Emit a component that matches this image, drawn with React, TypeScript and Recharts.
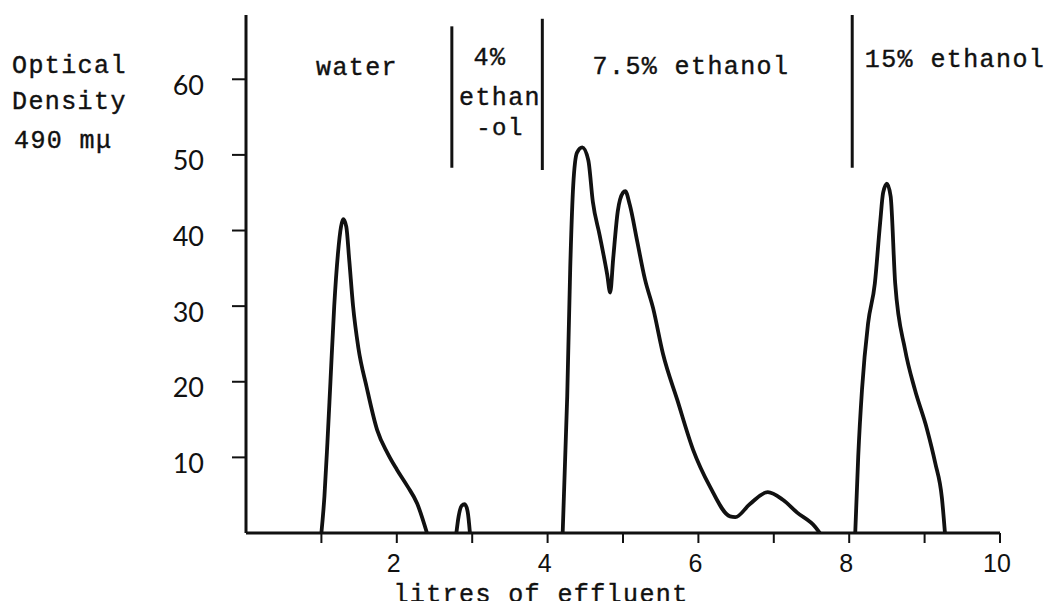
import React from 'react';
import { LineChart, Line, XAxis, YAxis, ReferenceLine } from 'recharts';

// elution profile, optical density at 490 mμ against litres of effluent
const waterLitres = [1.0, 1.04, 1.08, 1.12, 1.17, 1.22, 1.26, 1.29, 1.33, 1.37, 1.42, 1.49, 1.6, 1.74, 1.88, 2.0, 2.14, 2.27, 2.4];
const waterOD = [0, 4.8, 12, 20, 30, 37, 40.5, 41.5, 40.5, 36, 30, 24.5, 19.3, 13.6, 10.5, 8.4, 6.2, 3.9, 0];

const eth4Litres = [2.79, 2.82, 2.86, 2.9, 2.94, 2.97];
const eth4OD = [0, 2.2, 3.6, 3.8, 2.8, 0];

const eth75Litres = [4.2, 4.26, 4.3, 4.34, 4.39, 4.46, 4.54, 4.6, 4.69, 4.79, 4.83, 4.87, 4.93, 5.0, 5.03, 5.09, 5.19, 5.29, 5.4, 5.53, 5.72, 5.93, 6.15, 6.42, 6.49, 6.68, 6.92, 7.12, 7.31, 7.55, 7.61];
const eth75OD = [0, 18, 35, 46, 50.3, 51, 49.3, 43.8, 39.4, 34.2, 31.8, 36.3, 42.5, 45, 45.2, 43.4, 38.5, 33.6, 29.7, 23.7, 17.6, 11, 6.2, 2.2, 2.1, 3.8, 5.4, 4.4, 2.7, 0.8, 0];

const eth15Litres = [8.08, 8.12, 8.17, 8.25, 8.34, 8.41, 8.45, 8.5, 8.55, 8.61, 8.74, 8.87, 9.03, 9.14, 9.23, 9.27];
const eth15OD = [0, 10.2, 19, 27.7, 33, 41, 45, 46.2, 44.5, 33, 24.3, 19, 13.8, 9.3, 4.6, 0];

// solvent changes (litres) and how far each marker runs up the plot
const solventChanges = [2.73, 3.93, 8.04];
const markerBottom = [48.3, 48, 48.3];
const markerTop = [67, 68, 68.5];

const xTicks = [1, 2, 3, 4, 5, 6, 7, 8, 9, 10];
const yTicks = [10, 20, 30, 40, 50, 60];

const toRows = (litres: number[], od: number[]) => litres.map((l, i) => ({ litres: l, od: od[i] }));

const peaks = [
  toRows(waterLitres, waterOD),
  toRows(eth4Litres, eth4OD),
  toRows(eth75Litres, eth75OD),
  toRows(eth15Litres, eth15OD),
];

const INK = '#111';
const TYPE = '"Liberation Mono", "Courier New", monospace';

const XTick = (props: any) => {
  const { x, y, payload } = props;
  if (payload.value % 2 !== 0) return null;
  return (
    <text x={x - 3} y={y + 8} textAnchor="middle" dominantBaseline="central"
      fontFamily='"Liberation Sans", Arial, sans-serif' fontSize={25} fill={INK}>
      {payload.value}
    </text>
  );
};

const YTick = (props: any) => {
  const { x, y, payload } = props;
  return (
    <text x={x} y={y + 5} textAnchor="end" dominantBaseline="central"
      fontFamily='Lato, "DejaVu Sans", sans-serif' fontSize={27} fill={INK}>
      {payload.value}
    </text>
  );
};

const typeText = { fontFamily: TYPE, fontSize: 25, letterSpacing: 1.4, fill: INK, stroke: INK, strokeWidth: 0.4 };

export default function App() {
  return (
    <div style={{ position: 'relative', width: 1039, height: 593 }}>
      <LineChart width={1039} height={593} margin={{ top: 7, right: 47, bottom: 28, left: 178 }}>
        <XAxis dataKey="litres" type="number" domain={[0, 10]} ticks={xTicks} interval={0}
          allowDuplicatedCategory={false} height={40}
          axisLine={{ stroke: INK, strokeWidth: 3 }} tickLine={{ stroke: INK, strokeWidth: 2 }}
          tickSize={10} tickMargin={12} tick={<XTick />} />
        <YAxis type="number" domain={[0, 68.5]} ticks={yTicks} interval={0} width={60}
          axisLine={{ stroke: INK, strokeWidth: 3 }} tickLine={{ stroke: INK, strokeWidth: 2 }}
          tickSize={14} tickMargin={28} tick={<YTick />} />
        {solventChanges.map((l, i) => (
          <ReferenceLine key={l} segment={[{ x: l, y: markerBottom[i] }, { x: l, y: markerTop[i] }]}
            stroke={INK} strokeWidth={3} ifOverflow="visible" />
        ))}
        {peaks.map((rows, i) => (
          <Line key={i} data={rows} dataKey="od" type="monotone" stroke={INK} strokeWidth={3.8}
            dot={false} activeDot={false} isAnimationActive={false} />
        ))}
      </LineChart>
      <svg width={1039} height={601} style={{ position: 'absolute', left: 0, top: 0, pointerEvents: 'none' }}>
        <g {...typeText} dominantBaseline="central">
          <text x={4} y={58}>Optical</text>
          <text x={4} y={94}>Density</text>
          <text x={6} y={133}>490 mμ</text>
          <text x={349} y={60} textAnchor="middle">water</text>
          <text x={482} y={50} textAnchor="middle">4%</text>
          <text x={492} y={90} textAnchor="middle">ethan</text>
          <text x={492} y={120} textAnchor="middle" fontSize={24}>-ol</text>
          <text x={683} y={59} textAnchor="middle">7.5% ethanol</text>
          <text x={947} y={52} textAnchor="middle">15% ethanol</text>
          <text x={533} y={587} textAnchor="middle">litres of effluent</text>
        </g>
      </svg>
    </div>
  );
}
